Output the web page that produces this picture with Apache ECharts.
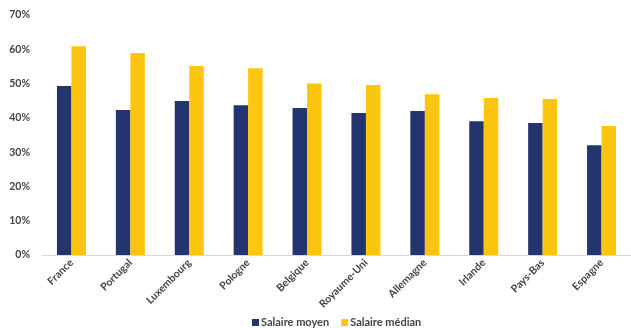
<!DOCTYPE html>
<html>
<head>
<meta charset="utf-8">
<script src="https://cdn.jsdelivr.net/npm/echarts@6/dist/echarts.min.js"></script>
<style>
  html, body { margin: 0; padding: 0; background: #fff; }
  #chart { width: 631px; height: 328px; }
</style>
</head>
<body>
<div id="chart"></div>
<script>
const countries = ['France', 'Portugal', 'Luxembourg', 'Pologne', 'Belgique', 'Royaume-Uni', 'Allemagne', 'Irlande', 'Pays-Bas', 'Espagne'];
const salaireMoyen = [49.3, 42.3, 44.9, 43.7, 42.9, 41.4, 42.0, 39.0, 38.5, 32.0];
const salaireMedian = [60.9, 58.9, 55.1, 54.5, 50.0, 49.6, 46.9, 45.8, 45.5, 37.6];
const yTicks = [0, 10, 20, 30, 40, 50, 60, 70];

const chart = echarts.init(document.getElementById('chart'));

const labelFont = { fontFamily: 'Lato', fontSize: 10.5, fontWeight: 'bold', color: '#444' };

chart.setOption({
  animation: false,
  textStyle: { fontFamily: 'Lato' },
  grid: { left: 42, top: 15, width: 602, height: 240, containLabel: false },
  legend: {
    top: 312,
    left: 247,
    itemWidth: 7,
    itemHeight: 7,
    itemGap: 12,
    icon: 'rect',
    textStyle: { ...labelFont, fontSize: 11, padding: [0, 0, 0, -3] },
    data: ['Salaire moyen', 'Salaire médian']
  },
  xAxis: {
    type: 'category',
    data: countries,
    axisLine: { lineStyle: { color: '#d9d9d9' } },
    axisTick: { show: false },
    axisLabel: { ...labelFont, rotate: 45, interval: 0, margin: 6 }
  },
  yAxis: {
    type: 'value',
    min: yTicks[0],
    max: yTicks[yTicks.length - 1],
    interval: 10,
    splitLine: { show: false },
    axisLine: { show: false },
    axisTick: { show: false },
    axisLabel: { ...labelFont, margin: 12, formatter: v => v + '%' }
  },
  series: [
    {
      name: 'Salaire moyen',
      type: 'bar',
      data: salaireMoyen,
      barWidth: 14.5,
      barGap: '0%',
      itemStyle: { color: '#23346f' }
    },
    {
      name: 'Salaire médian',
      type: 'bar',
      data: salaireMedian,
      barWidth: 14.5,
      itemStyle: { color: '#fcc50f' }
    }
  ]
});
</script>
</body>
</html>
